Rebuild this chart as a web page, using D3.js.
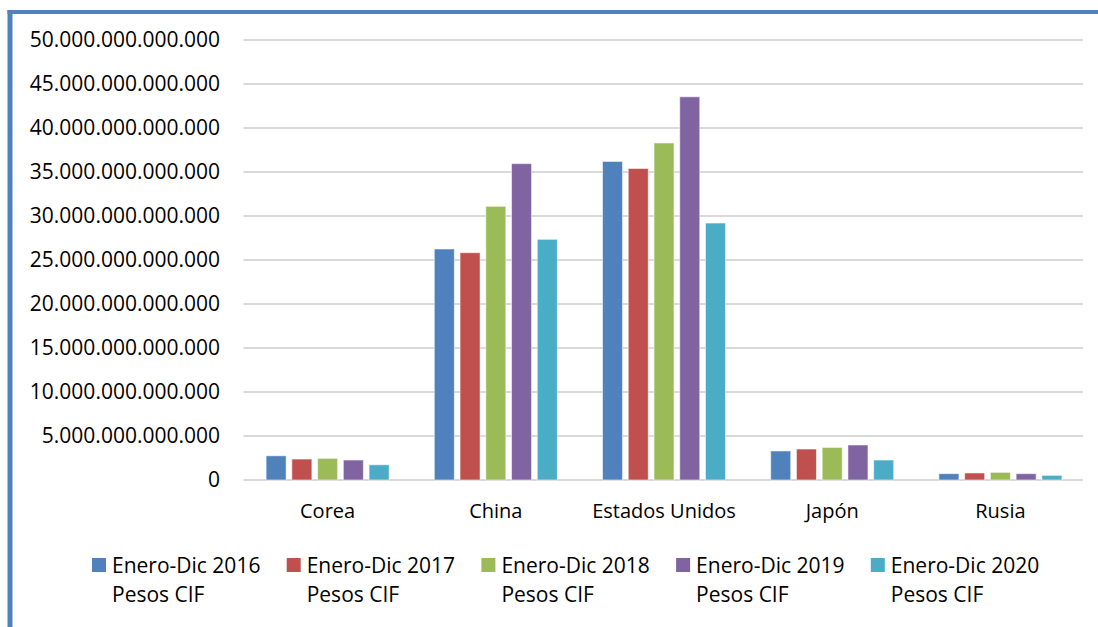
<!DOCTYPE html>
<html><head><meta charset="utf-8">
<script src="https://cdn.jsdelivr.net/npm/d3@7"></script>
<style>body{margin:0;background:#fff}svg{display:block}</style>
</head><body><div id="chart"></div>
<script>
const categories = ["Corea", "China", "Estados Unidos", "Japón", "Rusia"];
const seriesNames = ["Enero-Dic 2016", "Enero-Dic 2017", "Enero-Dic 2018", "Enero-Dic 2019", "Enero-Dic 2020"];
const seriesSub = "Pesos CIF";
const v2016 = [2.75e12, 26.25e12, 36.2e12, 3.3e12, 0.72e12];
const v2017 = [2.38e12, 25.83e12, 35.4e12, 3.52e12, 0.8e12];
const v2018 = [2.46e12, 31.1e12, 38.3e12, 3.7e12, 0.87e12];
const v2019 = [2.27e12, 35.95e12, 43.55e12, 3.98e12, 0.72e12];
const v2020 = [1.73e12, 27.35e12, 29.2e12, 2.27e12, 0.53e12];
const yTicks = [0, 5e12, 10e12, 15e12, 20e12, 25e12, 30e12, 35e12, 40e12, 45e12, 50e12];
const colors = ["#4F81BD", "#C0504D", "#9BBB59", "#8064A2", "#4BACC6"];

const allValues = [v2016, v2017, v2018, v2019, v2020];
const W = 1098, H = 627;
const font = "'Open Sans', sans-serif";
const svg = d3.select("#chart").append("svg").attr("width", W).attr("height", H);

const locale = d3.formatLocale({decimal: ",", thousands: ".", grouping: [3], currency: ["$", ""]});
const fmt = locale.format(",.0f");

const plot = {left: 243.5, right: 1084.5, top: 40, bottom: 480};
const x0 = d3.scaleBand().domain(categories).range([plot.left, plot.right]).paddingInner(0.2687).paddingOuter(0.1344);
const x1 = d3.scaleBand().domain(d3.range(seriesNames.length)).range([0, x0.bandwidth()]).paddingInner(0.222).paddingOuter(0);
const y = d3.scaleLinear().domain([0, 50e12]).range([plot.bottom, plot.top]);

// gridlines
svg.append("g").selectAll("line").data(yTicks).join("line")
  .attr("x1", plot.left).attr("x2", plot.right - 1.5)
  .attr("y1", d => y(d)).attr("y2", d => y(d))
  .attr("stroke", "#d9d9d9").attr("stroke-width", 2);

// y labels
svg.append("g").selectAll("text").data(yTicks).join("text")
  .attr("x", 220).attr("y", d => y(d)).attr("dy", "0.35em")
  .attr("text-anchor", "end").attr("font-family", font).attr("font-size", 21)
  .attr("fill", "#000").text(d => fmt(d));

// bars
const groups = svg.append("g").selectAll("g").data(categories).join("g")
  .attr("transform", d => `translate(${x0(d)},0)`);
groups.selectAll("rect").data((c, ci) => allValues.map((vals, si) => ({si, v: vals[ci]}))).join("rect")
  .attr("x", d => x1(d.si)).attr("width", x1.bandwidth())
  .attr("y", d => y(d.v)).attr("height", d => y(0) - y(d.v))
  .attr("fill", d => colors[d.si])
  .attr("stroke", "rgba(255,255,255,0.55)").attr("stroke-width", 1);

// category labels
svg.append("g").selectAll("text").data(categories).join("text")
  .attr("x", d => x0(d) + x0.bandwidth() / 2).attr("y", 518)
  .attr("text-anchor", "middle").attr("font-family", font).attr("font-size", 20)
  .attr("fill", "#000").text(d => d);

// legend
const lx = d3.scaleLinear().domain([0, 1]).range([92, 92 + 194.7]);
const leg = svg.append("g").selectAll("g").data(seriesNames).join("g")
  .attr("transform", (d, i) => `translate(${lx(i)},558)`);
leg.append("rect").attr("width", 14).attr("height", 14).attr("fill", (d, i) => colors[i]);
leg.append("text").attr("x", 20).attr("y", 14.5).attr("font-family", font).attr("font-size", 21)
  .attr("fill", "#000").text(d => d);
leg.append("text").attr("x", 20).attr("y", 43.5).attr("font-family", font).attr("font-size", 21)
  .attr("fill", "#000").text(seriesSub);

// border lines
svg.append("rect").attr("x", 7.5).attr("y", 10).attr("width", 5).attr("height", H - 10).attr("fill", "#4F81BD");
svg.append("rect").attr("x", 7.5).attr("y", 10).attr("width", W - 7.5).attr("height", 4).attr("fill", "#4F81BD");
</script></body></html>
